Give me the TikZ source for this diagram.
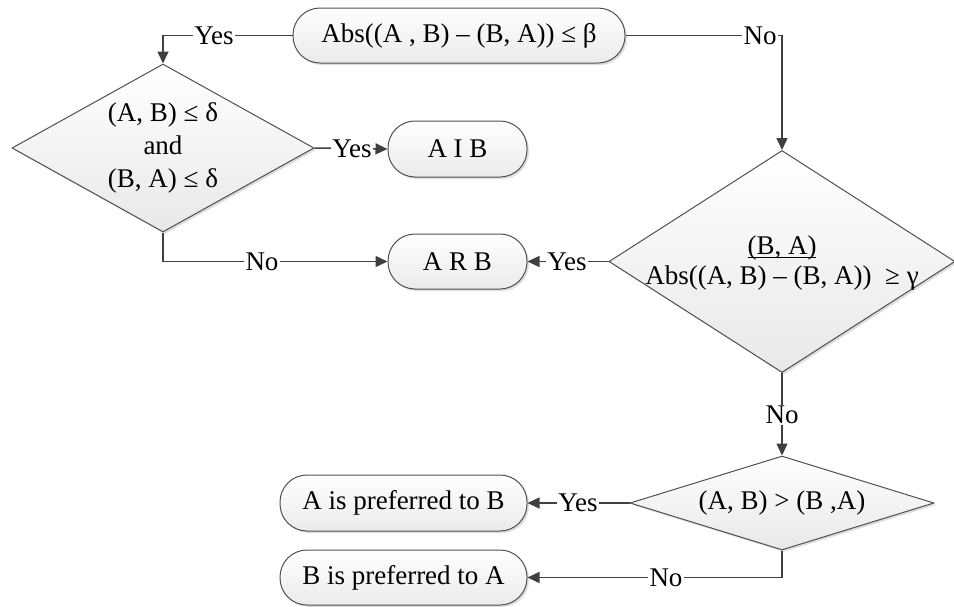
\documentclass[tikz,border=0pt]{standalone}
\usepackage{fontspec}
\setmainfont{Liberation Serif}
\usetikzlibrary{shapes.geometric,arrows.meta,shadows}
\definecolor{linegray}{HTML}{404040}
\definecolor{edgegray}{HTML}{505050}
% underline set close under the baseline, without changing the line depth
\newcommand\tightunder[1]{\setbox0\hbox{#1}\rlap{\rule[-1.6pt]{\wd0}{0.5pt}}\box0}
\begin{document}
\begin{tikzpicture}[x=0.5pt,y=-0.5pt,
  every node/.style={font=\fontsize{13.5}{16.5}\selectfont},
  softshadow/.style={drop shadow={shadow xshift=1pt,shadow yshift=-1pt,opacity=0.22,fill=black!60}},
  terminal/.style={draw=edgegray, line width=0.5pt, rounded corners=13.5pt,
    shading=axis, top color=white, bottom color=black!8, softshadow, inner sep=0pt},
  decision/.style={diamond, draw=edgegray, line width=0.5pt,
    shading=axis, top color=white, bottom color=black!9, softshadow, inner sep=0pt},
  flow/.style={draw=linegray, line width=0.75pt, -{Triangle[length=6pt,width=5.5pt]}},
  lbl/.style={fill=white, inner sep=0.6pt}
]
\useasboundingbox (0,0) rectangle (954,606);

% terminal boxes
\node[terminal, minimum width=166pt, minimum height=27.5pt] (top) at (459,35.5)
  {Abs((A , B) – (B, A)) ≤ β};
\node[terminal, minimum width=69.5pt, minimum height=28pt] (aib) at (457.5,149) {A I B};
\node[terminal, minimum width=69.5pt, minimum height=27.5pt] (arb) at (457.5,261.5) {A R B};
\node[terminal, minimum width=123.5pt, minimum height=28pt] (apref) at (403.5,503)
  {A is preferred to B};
\node[terminal, minimum width=123.5pt, minimum height=27.5pt] (bpref) at (403.5,577.5)
  {B is preferred to A};

% decisions
\node[decision, minimum width=151pt, minimum height=84pt] (d1) at (163,148) {};
\node[align=center] (t1) at (d1) {(A, B) ≤ δ\\and\\(B, A) ≤ δ};
\node[decision, minimum width=173pt, minimum height=111pt] (d2) at (782,261.5) {};
\node[align=center, font=\fontsize{13.5}{15}\selectfont] (t2) at (782,263)
  {\tightunder{(B, A)}\\Abs((A, B) – (B, A))\ \ ≥ γ};
\node[decision, minimum width=152pt, minimum height=47pt] (d3) at (782,503) {};
\node (t3) at (d3) {(A, B) > (B ,A)};

% connectors
\draw[flow] (top.west) -| (d1.north);
\draw[flow] (top.east) -| (d2.north);
\draw[flow] (d1.east) -- (aib.west);
\draw[flow] (d1.south) |- (arb.west);
\draw[flow] (d2.west) -- (arb.east);
\draw[flow] (d2.south) -- (d3.north);
\draw[flow] (d3.west) -- (apref.east);
\draw[flow] (d3.south) |- (bpref.east);

% branch labels
\node[lbl] (l1) at (214,35.5) {Yes};
\node[lbl] (l2) at (760,35.5) {No};
\node[lbl] (l3) at (352,149) {Yes};
\node[lbl] (l4) at (262,261.5) {No};
\node[lbl] (l5) at (567,261.5) {Yes};
\node[lbl] (l6) at (782,415) {No};
\node[lbl] (l7) at (578,503) {Yes};
\node[lbl] (l8) at (666,577.5) {No};
\end{tikzpicture}
\end{document}
